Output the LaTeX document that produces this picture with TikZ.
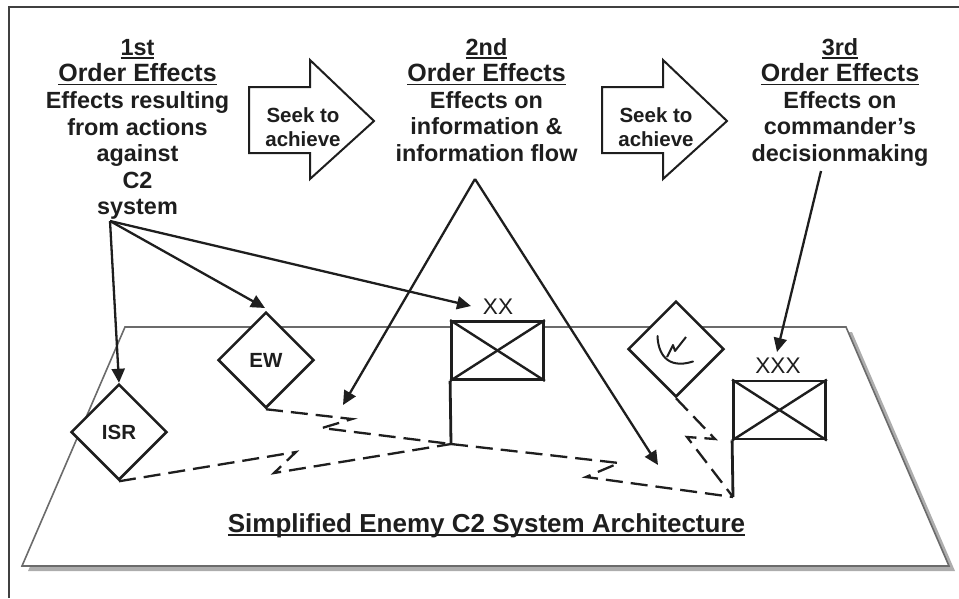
\documentclass[tikz,border=0pt]{standalone}
\usepackage{fontspec}
\setmainfont{Liberation Sans}
\usetikzlibrary{arrows.meta,shapes.geometric}
\newsavebox{\rulebox}
\newcommand{\ruled}[1]{\sbox{\rulebox}{#1}\rlap{\rule[-3.5pt]{\wd\rulebox}{1.5pt}}\usebox{\rulebox}}
\definecolor{ink}{HTML}{1E1E1E}
\tikzset{
    effects/.style={anchor=north,align=center,inner sep=0pt,text=ink,
        font=\fontsize{23.4}{26.6}\selectfont\bfseries},
    seek/.style={align=center,inner sep=0pt,text=ink,
        font=\fontsize{20.5}{23.5}\selectfont\bfseries},
    unit/.style={shape=diamond,draw=ink,fill=white,line width=2.5pt,inner sep=0pt,
        minimum width=96pt,minimum height=96pt,text=ink,
        font=\fontsize{20.5}{24}\selectfont\bfseries},
    hq/.style={draw=ink,line width=2.8pt,inner sep=0pt,fill=white,
        minimum width=92pt,minimum height=58pt},
    echelon/.style={anchor=base,inner sep=0pt,text=ink,font=\fontsize{22.6}{26}\selectfont},
    pointer/.style={draw=ink,line width=2pt,fill=white},
    effect/.style={draw=ink,line width=2.3pt,-{Triangle[length=14pt,width=13pt]}},
    link/.style={draw=ink,line width=2.3pt,dash pattern=on 17pt off 8pt}
}
\newcommand{\headline}{\fontsize{25}{26.6}\selectfont}
\begin{document}
\begin{tikzpicture}[x=1pt,y=-1pt]
        \useasboundingbox (0,0) rectangle (959,598);
        %% frame
        \draw[line width=2.6pt,color=ink!85] (9,598) -- (9,7) -- (959,7);
        %% plane
        \fill[black!32] (131,332) -- (852,332) -- (955,571) -- (28,571) -- cycle;
        \draw[line width=1.6pt,color=black!58,fill=white] (125,327) -- (846,327) -- (949,566) -- (22,566) -- cycle;
        \node[anchor=base,inner sep=0pt,text=ink,font=\fontsize{26}{30}\selectfont\bfseries] (title) at (486.5,532) {\ruled{Simplified Enemy C2 System Architecture}};
        %% effects
        \node[effects] (first) at (137.5,39) {\ruled{1st}\\{\headline\ruled{Order Effects}}\\Effects resulting\\from actions\\against\\C2\\system};
        \node[effects] (second) at (486.5,38) {\ruled{2nd}\\{\headline\ruled{Order Effects}}\\Effects on\\information \&\\information flow};
        \node[effects] (third) at (840,38) {\ruled{3rd}\\{\headline\ruled{Order Effects}}\\Effects on\\commander’s\\decisionmaking};
        %% block arrows
        \foreach \x/\name in {249/seekone,602/seektwo} {
            \draw[pointer] (\x,87) -- ++(61,0) -- ++(0,-27) -- ++(64,61) -- ++(-64,58) -- ++(0,-26) -- ++(-61,0) -- cycle;
            \node[seek] (\name) at ({\x+54},127) {Seek to\\achieve};
        }
        %% command posts
        \node[hq] (xx) at (497.5,350.5) {};
        \node[hq] (xxx) at (779.5,410) {};
        \foreach \post in {xx,xxx} {
            \draw[draw=ink,line width=2.4pt] (\post.north west) -- (\post.south east);
            \draw[draw=ink,line width=2.4pt] (\post.south west) -- (\post.north east);
        }
        \node[echelon] (xxlabel) at (498,314) {XX};
        \node[echelon] (xxxlabel) at (778,373) {XXX};
        \coordinate (xxfoot) at (451,444);
        \coordinate (xxxfoot) at (733,497);
        \draw[draw=ink,line width=2.8pt] (xx.south west) -- (xxfoot);
        \draw[draw=ink,line width=2.8pt] (xxx.south west) -- (xxxfoot);
        %% diamonds
        \node[unit] (isr) at (119,432) {ISR};
        \node[unit] (ew) at (266,360) {EW};
        \node[unit] (radar) at (676,349) {};
        \draw[draw=ink,line width=2pt,line cap=round] (657.5,336) .. controls (658,352) and (666,370) .. (693,361.5);
        \draw[draw=ink,line width=2pt,line join=round] (667,357) -- (673,345) -- (675,351) -- (686,337);
        %% links
        \coordinate (ewa) at (352,419);
        \coordinate (ewb) at (322,428);
        \coordinate (isra) at (296,452);
        \coordinate (isrb) at (274,473);
        \coordinate (xxa) at (619,463);
        \coordinate (xxb) at (586,477);
        \coordinate (radara) at (715,439);
        \coordinate (radarb) at (687,437);
        \draw[link] (ew.south) -- (ewa) -- (ewb) -- (xxfoot);
        \draw[link] (isr.south) -- (isra) -- (isrb) -- (xxfoot);
        \draw[link] (xxfoot) -- (xxa) -- (xxb) -- (xxxfoot);
        \draw[link] (radar.south) -- (radara) -- (radarb) -- (xxxfoot);
        %% arrows from the first order
        \coordinate (firstfoot) at (110,221);
        \coordinate (ewtip) at (265,308);
        \coordinate (xxtip) at (471,306);
        \draw[effect] (firstfoot) -- (isr.north);
        \draw[effect] (firstfoot) -- (ewtip);
        \draw[effect] (firstfoot) -- (xxtip);
        %% arrows from the second order
        \coordinate (apex) at (475,179);
        \coordinate (apexleft) at (343,405);
        \coordinate (apexright) at (658,465);
        \draw[effect] (apex) -- (apexleft);
        \draw[effect] (apex) -- (apexright);
        %% arrow from the third order
        \coordinate (thirdfoot) at (821,171);
        \coordinate (thirdtip) at (777,352);
        \draw[effect] (thirdfoot) -- (thirdtip);
    \end{tikzpicture}
\end{document}
